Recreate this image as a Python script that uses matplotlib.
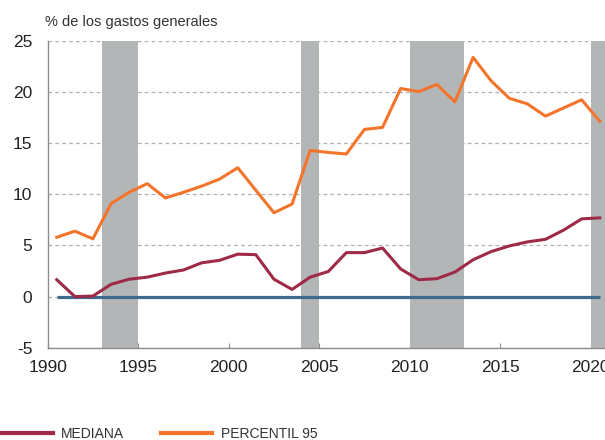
import numpy as np
import matplotlib
matplotlib.use("Agg")
import matplotlib.pyplot as plt
from matplotlib.lines import Line2D

# Data (values plotted at mid-year)
years = np.arange(1990, 2021) + 0.5
mediana = [1.65, 0.0, 0.05, 1.2, 1.7, 1.9, 2.3, 2.6, 3.3, 3.55, 4.15, 4.1, 1.7, 0.7,
           1.9, 2.45, 4.3, 4.3, 4.75, 2.7, 1.65, 1.75, 2.4, 3.6, 4.4, 4.95, 5.35, 5.6,
           6.5, 7.6, 7.7]
percentil_95 = [5.8, 6.4, 5.65, 9.1, 10.2, 11.05, 9.65, 10.2, 10.8, 11.5, 12.6, 10.4, 8.2,
                9.05, 14.3, 14.1, 13.95, 16.35, 16.55, 20.35, 20.05, 20.75, 19.05, 23.4,
                21.1, 19.4, 18.85, 17.65, 18.45, 19.25, 17.15]
zero_line = [0.0] * len(years)
bands = [(1993, 1995), (2004, 2005), (2010, 2013), (2020, 2021.5)]
x_ticks = [1990, 1995, 2000, 2005, 2010, 2015, 2020]
y_ticks = [-5, 0, 5, 10, 15, 20, 25]

C_MED = "#9e2a47"
C_P95 = "#f3742a"
C_ZERO = "#3e6a8f"
C_BAND = "#b3b6b7"
C_AXIS = "#8c8c8c"
C_TEXT = "#222222"

plt.rcParams["font.family"] = ["Liberation Sans", "DejaVu Sans"]

fig = plt.figure(figsize=(6.05, 4.4), dpi=100)
ax = fig.add_axes([47.7 / 605, (440 - 347.7) / 440, 31 * 18.1 / 605, 306.7 / 440])
ax.set_xlim(1990, 2021)
ax.set_ylim(-5, 25)

for x0, x1 in bands:
    ax.axvspan(x0, x1, color=C_BAND, lw=0, zorder=1)

ax.plot(years, zero_line, color=C_ZERO, lw=2.3, zorder=3, solid_capstyle="butt")
ax.plot(years, mediana, color=C_MED, lw=2.2, zorder=4)
ax.plot(years, percentil_95, color=C_P95, lw=2.2, zorder=5)

ax.set_xticks(x_ticks)
ax.set_yticks(y_ticks)
ax.set_yticklabels([str(v) for v in y_ticks])
ax.yaxis.grid(True, color="#b0b0b0", ls=(0, (3, 2.5)), lw=0.9, zorder=0)
ax.set_axisbelow(True)
for s in ["top", "right"]:
    ax.spines[s].set_visible(False)
for s in ["left", "bottom"]:
    ax.spines[s].set_color(C_AXIS)
    ax.spines[s].set_linewidth(1.0)
ax.tick_params(axis="x", direction="in", length=3.5, color=C_AXIS, pad=9,
               labelsize=12.5, labelcolor=C_TEXT)
ax.tick_params(axis="y", length=0, pad=11, labelsize=12.5, labelcolor=C_TEXT)

fig.text(45 / 605, 1 - 26 / 440, "% de los gastos generales", fontsize=10.5,
         color="#333333", va="baseline")

# legend drawn at the bottom
ly = 1 - 433 / 440
fig.add_artist(Line2D([0 / 605, 53 / 605], [ly, ly], color=C_MED, lw=3,
                      transform=fig.transFigure))
fig.add_artist(Line2D([161 / 605, 212 / 605], [ly, ly], color=C_P95, lw=3,
                      transform=fig.transFigure))
leg_font = ["Liberation Sans Narrow", "Liberation Sans", "DejaVu Sans"]
fig.text(61 / 605, 1 - 438 / 440, "MEDIANA", fontsize=10, color="#333333",
         va="baseline", family=leg_font)
fig.text(221 / 605, 1 - 438 / 440, "PERCENTIL 95", fontsize=10, color="#333333",
         va="baseline", family=leg_font)

fig.savefig("out.png", dpi=100)
